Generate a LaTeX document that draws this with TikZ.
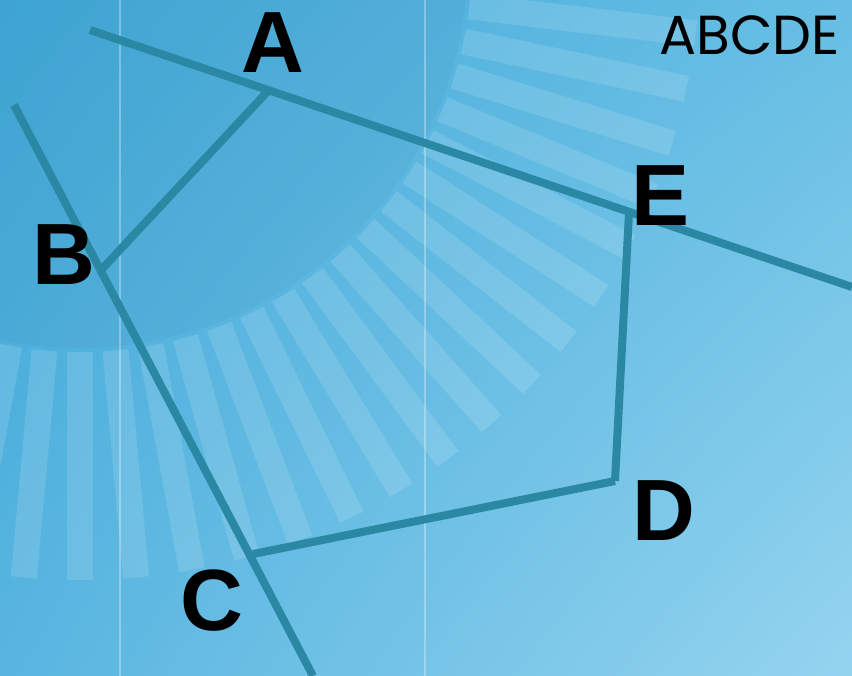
\documentclass[tikz,border=0pt]{standalone}
\usepackage{fontspec}
\usetikzlibrary{shadings}
\setmainfont{Liberation Sans}
\newfontfamily\titlefont{Poppins}
\definecolor{bgul}{HTML}{40A8D8}
\definecolor{bgur}{HTML}{66BEE4}
\definecolor{bgll}{HTML}{58B5E0}
\definecolor{bglr}{HTML}{95D4EF}
\definecolor{linecol}{HTML}{2B88A4}
\begin{document}
\begin{tikzpicture}[x=1pt,y=-1pt,
  edge/.style={line width=8pt,color=linecol},
  bar/.style={fill=white,fill opacity=0.13},
  rule/.style={draw=white,draw opacity=0.3,line width=1.8pt},
  letter/.style={inner sep=0pt,font=\fontsize{87}{87}\selectfont\bfseries}]
\useasboundingbox (0,0) rectangle (852,676);
\shade[upper left=bgul,upper right=bgur,lower left=bgll,lower right=bglr]
  (0,0) rectangle (852,676);
\clip (0,0) rectangle (852,676);

\fill[black,opacity=0.025] (80,-40) circle (388);
\foreach \k in {-16,...,2}
  \fill[bar,rotate around={-90-5.2*\k:(80,-40)}] (472,-53) rectangle (700,-27);

\draw[rule] (120,0) -- (120,676);
\draw[rule] (425,0) -- (425,676);

\coordinate (a) at (268,91);
\coordinate (b) at (102,269);
\coordinate (c) at (253,554);
\coordinate (d) at (615,481);
\coordinate (e) at (629,213);
\coordinate (ae0) at (90,30);
\coordinate (ae1) at (852,287);
\coordinate (bc0) at (14,105);
\coordinate (bc1) at (313,676);

\draw[edge] (ae0) -- (ae1);
\draw[edge] (bc0) -- (bc1);
\draw[edge] (a) -- (b);
\draw[edge] (c) -- (d);
\draw[edge] (d) -- (e);

\node[letter] (la) at (272.5,42.5) {A};
\node[letter] (lb) at (63.5,255) {B};
\node[letter] (lc) at (212,601) {C};
\node[letter] (ld) at (663.5,510.5) {D};
\node[letter] (le) at (661,196) {E};
\node[inner sep=0pt,font=\titlefont\fontsize{55}{55}\selectfont] (title) at (749.5,35) {ABCDE};
\end{tikzpicture}
\end{document}
